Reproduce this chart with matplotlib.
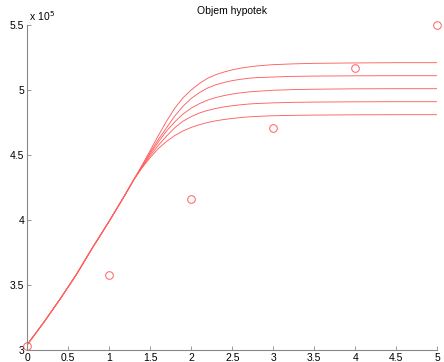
import matplotlib
matplotlib.use("Agg")
import matplotlib.pyplot as plt

plt.rcParams['font.family'] = ['Liberation Sans', 'DejaVu Sans']

# observed data (x 10^5)
years = [0, 1, 2, 3, 4, 5]
volume = [3.03, 3.58, 4.16, 4.71, 5.17, 5.50]

# model curves (x 10^5)
t = [0, 0.2, 0.4, 0.6, 0.8, 1.0, 1.2, 1.3,
     1.4, 1.5, 1.6, 1.7, 1.8, 1.9, 2.0, 2.1, 2.2, 2.3, 2.4, 2.5, 2.6, 2.7, 2.8,
     3.0, 3.25, 3.5, 4.0, 4.5, 5.0]
common = [3.04, 3.21, 3.39, 3.58, 3.79, 3.99, 4.20, 4.31]
fit_k521 = common + [4.42, 4.535, 4.65, 4.76, 4.86, 4.94, 5.00, 5.05, 5.09, 5.118, 5.138,
                     5.155, 5.168, 5.177, 5.185, 5.195, 5.201, 5.205, 5.208, 5.21, 5.21]
fit_k511 = common + [4.415, 4.52, 4.62, 4.71, 4.80, 4.875, 4.935, 4.98, 5.015, 5.04, 5.058,
                     5.072, 5.082, 5.09, 5.095, 5.10, 5.105, 5.107, 5.109, 5.11, 5.11]
fit_k501 = common + [4.41, 4.51, 4.60, 4.685, 4.755, 4.815, 4.86, 4.895, 4.922, 4.942, 4.957,
                     4.969, 4.978, 4.985, 4.99, 4.998, 5.003, 5.006, 5.009, 5.01, 5.01]
fit_k491 = common + [4.405, 4.495, 4.575, 4.645, 4.71, 4.76, 4.795, 4.823, 4.843, 4.858, 4.87,
                     4.879, 4.886, 4.892, 4.896, 4.901, 4.905, 4.907, 4.909, 4.91, 4.91]
fit_k481 = common + [4.40, 4.48, 4.55, 4.605, 4.65, 4.685, 4.712, 4.733, 4.75, 4.763, 4.773,
                     4.781, 4.788, 4.793, 4.797, 4.802, 4.805, 4.807, 4.809, 4.81, 4.81]

fig = plt.figure(figsize=(4.44, 3.62), dpi=100)
ax = fig.add_axes([0.061, 0.033, 0.924, 0.898])

for curve in [fit_k521, fit_k511, fit_k501, fit_k491, fit_k481]:
    ax.plot(t, curve, color='#ff6060', lw=0.65)
ax.plot(years, volume, 'o', mfc='none', mec='#ff6060', mew=0.7, ms=5.5, clip_on=False)

ax.set_xlim(0, 5)
ax.set_ylim(3, 5.5)
ax.set_xticks([0, 0.5, 1, 1.5, 2, 2.5, 3, 3.5, 4, 4.5, 5])
ax.set_xticklabels(['0', '0.5', '1', '1.5', '2', '2.5', '3', '3.5', '4', '4.5', '5'])
ax.set_yticks([3, 3.5, 4, 4.5, 5, 5.5])
ax.set_yticklabels(['3', '3.5', '4', '4.5', '5', '5.5'])
ax.tick_params(direction='in', length=3, width=0.6, color='#888888', labelsize=7.5, pad=2)
for s in ['top', 'right']:
    ax.spines[s].set_visible(False)
for s in ['left', 'bottom']:
    ax.spines[s].set_color('#888888')
    ax.spines[s].set_linewidth(0.8)

ax.text(0.0, 1.005, ' x 10$^5$', transform=ax.transAxes, fontsize=7.5, va='bottom', ha='left')
ax.set_title('Objem hypotek', fontsize=7.5, pad=8)

fig.savefig('out.png', dpi=100)
